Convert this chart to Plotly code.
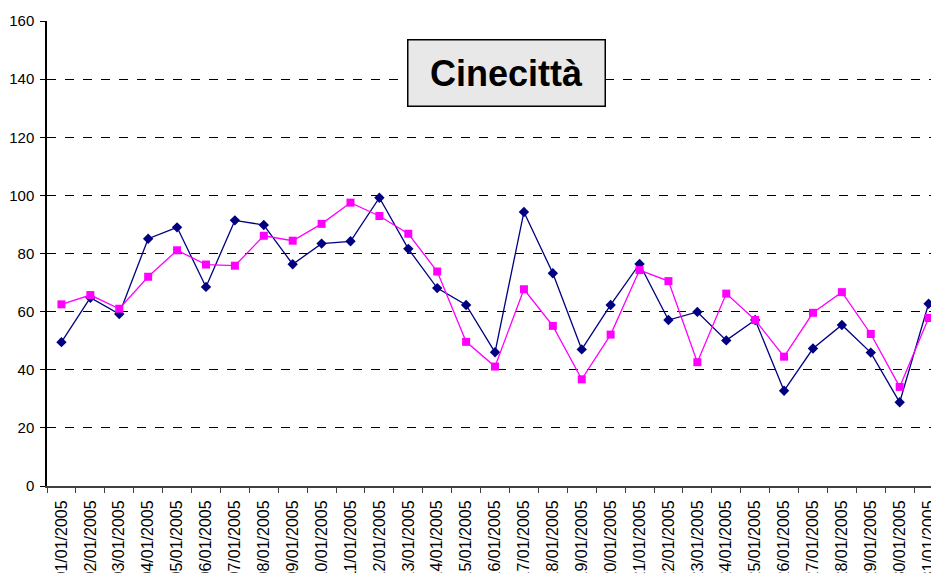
import plotly.graph_objects as go

dates = [f"{d:02d}/01/2005" for d in range(1, 32)]

navy_values = [49.5, 64.8, 59.2, 85.1, 89.0, 68.5, 91.4, 89.8, 76.3, 83.4,
               84.2, 99.2, 81.6, 68.1, 62.3, 46.0, 94.3, 73.2, 47.0, 62.3,
               76.4, 57.1, 59.9, 50.1, 57.1, 32.8, 47.3, 55.4, 45.9, 28.8, 62.7]

magenta_values = [62.5, 65.7, 61.0, 72.0, 81.1, 76.2, 75.8, 86.1, 84.4, 90.2,
                  97.5, 92.9, 86.8, 73.8, 49.6, 41.1, 67.7, 55.1, 36.7, 52.1,
                  74.3, 70.5, 42.6, 66.2, 57.1, 44.5, 59.6, 66.7, 52.3, 34.1, 57.8]

y_ticks = [0, 20, 40, 60, 80, 100, 120, 140, 160]

fig = go.Figure()
fig.add_trace(go.Scatter(
    x=dates, y=navy_values, mode='lines+markers',
    line=dict(color='#000080', width=1.3),
    marker=dict(symbol='diamond', size=8, color='#000080'),
    showlegend=False,
))
fig.add_trace(go.Scatter(
    x=dates, y=magenta_values, mode='lines+markers',
    line=dict(color='#FF00FF', width=1.3),
    marker=dict(symbol='square', size=8, color='#FF00FF'),
    showlegend=False,
))

# title box sits inside the plot, like the Excel original
fig.add_annotation(
    text='<b>Cinecittà</b>', xref='paper', yref='paper',
    x=0.5146, y=0.889, xanchor='center', yanchor='middle',
    showarrow=False, width=194, height=63,
    bgcolor='#E8E8E8', bordercolor='black', borderwidth=1.5,
    font=dict(family='Liberation Sans, Arial', size=36, color='black'),
)

# page body has an 8px margin, so the figure is shrunk to fit the window
fig.update_layout(
    width=931, height=565,
    margin=dict(l=39, r=0, t=13, b=87),
    plot_bgcolor='white', paper_bgcolor='white',
    font=dict(family='Liberation Sans, Arial', size=15, color='black'),
    xaxis=dict(
        type='category', range=[-0.5, 30.36], tickangle=-90,
        tickson='boundaries', ticks='outside', ticklen=5, tickcolor='#404040',
        ticklabelstandoff=6, tickfont=dict(size=16),
        showgrid=False, showline=True, linecolor='#404040', linewidth=2,
        automargin=False,
    ),
    yaxis=dict(
        range=[0, 160], tickvals=y_ticks, ticks='outside', ticklen=5,
        tickcolor='black', showline=True, linecolor='black', linewidth=1.5,
        ticklabelstandoff=3,
        showgrid=True, gridcolor='black', griddash='dash', gridwidth=1,
        zeroline=False, automargin=False,
    ),
)

fig.write_html("out.html")
